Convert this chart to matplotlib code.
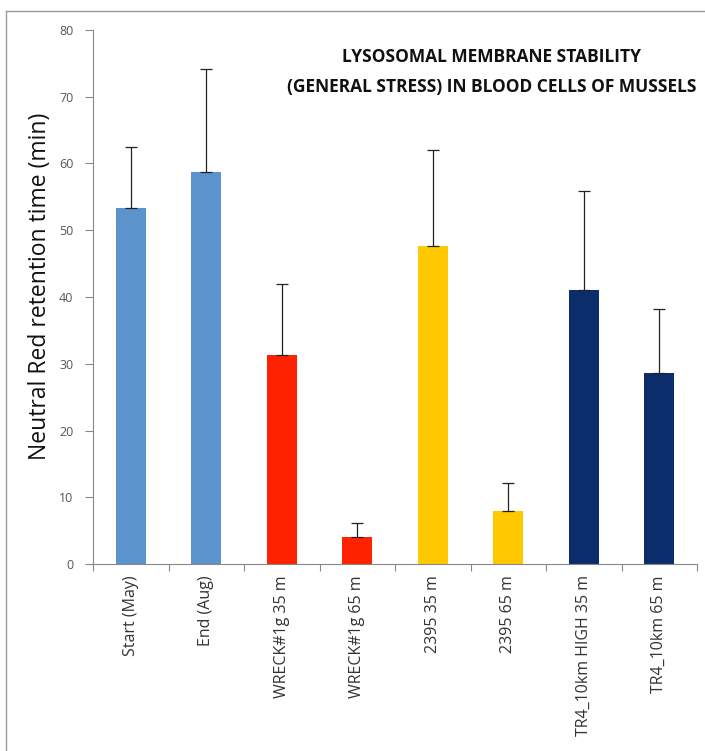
import matplotlib
matplotlib.use("Agg")
import matplotlib.pyplot as plt
from matplotlib.lines import Line2D
import numpy as np

categories = ["Start (May)", "End (Aug)", "WRECK#1g 35 m", "WRECK#1g 65 m",
              "2395 35 m", "2395 65 m", "TR4_10km HIGH 35 m", "TR4_10km 65 m"]
values = [53.4, 58.8, 31.3, 4.1, 47.6, 8.0, 41.0, 28.6]
err_upper = [9.1, 15.4, 10.7, 2.0, 14.4, 4.1, 14.9, 9.6]
colors = ["#5b93cc", "#5b93cc", "#ff2200", "#ff2200",
          "#ffc800", "#ffc800", "#0b2d6b", "#0b2d6b"]
yticks = [0, 10, 20, 30, 40, 50, 60, 70, 80]
title = "LYSOSOMAL MEMBRANE STABILITY\n(GENERAL STRESS) IN BLOOD CELLS OF MUSSELS"
ylabel = "Neutral Red retention time (min)"

plt.rcParams['font.family'] = ['Open Sans', 'DejaVu Sans']

fig = plt.figure(figsize=(7.05, 7.51), dpi=100)
ax = fig.add_axes([93/705, 1-564/751, (697-93)/705, (564-30)/751])

x = np.arange(len(categories))
ax.bar(x, values, width=0.4, color=colors, zorder=2)
ax.errorbar(x, values, yerr=[np.zeros(len(values)), err_upper], fmt='none',
            ecolor='#222222', elinewidth=0.9, capsize=4, capthick=0.9, zorder=3)

ax.set_xlim(-0.5, len(categories)-0.5)
ax.set_ylim(0, 80)
ax.set_yticks(yticks)
ax.tick_params(axis='y', labelsize=9, colors='#888888', labelcolor='#555555',
               length=6, width=0.8, pad=8)
ax.set_xticks(x)
ax.set_xticklabels(categories, rotation=90, fontsize=11.5, color='#333333')
ax.tick_params(axis='x', length=0, pad=8)
ax.set_xticks(np.arange(len(categories)+1)-0.5, minor=True)
ax.tick_params(axis='x', which='minor', length=5, width=0.8, colors='#888888')

for s in ['top', 'right']:
    ax.spines[s].set_visible(False)
for s in ['left', 'bottom']:
    ax.spines[s].set_color('#888888')
    ax.spines[s].set_linewidth(0.8)

ax.set_ylabel(ylabel, fontsize=16.5, color='#111111', labelpad=3)
ax.yaxis.set_label_coords(-0.068, 0.52)
fig.text(492/705, 1-72/751, title, ha='center', va='center', fontsize=12.5,
         fontweight='bold', color='#111111', linespacing=1.8)

# outer border (left and top only visible)
fig.add_artist(Line2D([6/705, 6/705], [0, 1-11/751], transform=fig.transFigure, color='#999999', lw=1))
fig.add_artist(Line2D([6/705, 1], [1-11/751, 1-11/751], transform=fig.transFigure, color='#999999', lw=1))

fig.savefig("out.png", dpi=100)
